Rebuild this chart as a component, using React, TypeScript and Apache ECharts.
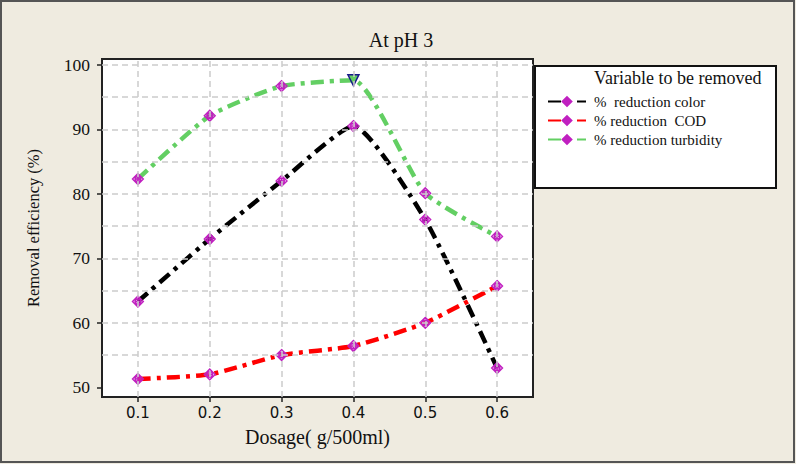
import React, { useEffect, useRef } from 'react';
import * as echarts from 'echarts';

const dosages = [0.1, 0.2, 0.3, 0.4, 0.5, 0.6];
const colorReduction = [63.3, 73.0, 82.0, 90.5, 76.0, 53.0];
const codReduction = [51.3, 52.0, 55.0, 56.4, 60.0, 65.7];
const turbidityReduction = [82.3, 92.1, 96.7, 97.6, 80.1, 73.4];
const seriesNames = ['%  reduction color', '% reduction  COD', '% reduction turbidity'];
const yTickValues = [50, 60, 70, 80, 90, 100];
const yGridValues = [55, 60, 65, 70, 75, 80, 85, 90, 95, 100];
const xTickValues = [0.1, 0.2, 0.3, 0.4, 0.5, 0.6];
const highlightIndex = 3; // turbidity point drawn as a triangle

const MARKER = 'path://M10 0 L20 10 L10 20 L0 10 Z M5 10 L15 10 M10 5 L10 15 M15 10 A5 5 0 1 1 5 10 A5 5 0 1 1 15 10';
const SERIF = '"Liberation Serif", "DejaVu Serif", serif';

export default function App() {
  const ref = useRef<HTMLDivElement>(null);
  useEffect(() => {
    document.body.style.margin = '0';
    if (!ref.current) return;
    const chart = echarts.init(ref.current, null, { renderer: 'svg' });
    const markerStyle = { color: 'rgba(214,80,214,0.45)', borderColor: '#c020c0', borderWidth: 1.3 };
    const lineSeries = (name: string, values: number[], color: string, z: number, special?: boolean) => ({
      name,
      type: 'line',
      z,
      smooth: 0.18,
      symbol: MARKER,
      symbolSize: 11,
      itemStyle: markerStyle,
      lineStyle: { color, width: 4.5, type: [13, 6, 4, 6] },
      emphasis: { disabled: true },
      data: values.map((v, i) =>
        special && i === highlightIndex
          ? {
              value: [dosages[i], v],
              symbol: 'triangle',
              symbolRotate: 180,
              symbolSize: 11,
              itemStyle: { color: '#63cf63', borderColor: '#1a1a8c', borderWidth: 1.5 },
            }
          : [dosages[i], v]
      ),
    });
    chart.setOption({
      animation: false,
      backgroundColor: '#EFEBE0',
      title: {
        text: 'At pH 3',
        left: 396,
        textAlign: 'center',
        top: 25,
        textStyle: { fontFamily: SERIF, fontSize: 20, fontWeight: 'normal', color: '#111' },
      },
      grid: {
        left: 102,
        top: 59,
        right: 263,
        bottom: 67,
        show: true,
        backgroundColor: '#ffffff',
        borderColor: '#222',
        borderWidth: 2,
      },
      xAxis: {
        type: 'value',
        min: 0.05,
        max: 0.65,
        name: 'Dosage( g/500ml)',
        nameLocation: 'middle',
        nameGap: 30,
        nameTextStyle: { fontFamily: SERIF, fontSize: 20, color: '#111' },
        axisLine: { show: true, lineStyle: { color: '#222', width: 2 } },
        axisTick: { show: true, customValues: xTickValues, length: 5, lineStyle: { color: '#222', width: 1.5 } },
        axisLabel: {
          customValues: xTickValues,
          margin: 8,
          fontFamily: '"DejaVu Sans", Verdana, sans-serif',
          fontSize: 15,
          color: '#111',
          formatter: (v: number) => v.toFixed(1),
        },
        splitLine: { show: false },
      },
      yAxis: {
        type: 'value',
        min: 48.5,
        max: 100.9,
        name: 'Removal efficiency (%)',
        nameLocation: 'middle',
        nameGap: 60,
        nameTextStyle: { fontFamily: SERIF, fontSize: 16.5, color: '#111' },
        axisLine: { show: true, lineStyle: { color: '#222', width: 2 } },
        axisTick: { show: true, customValues: yTickValues, length: 5, lineStyle: { color: '#222', width: 1.5 } },
        axisLabel: {
          customValues: yTickValues,
          margin: 12,
          fontFamily: SERIF,
          fontSize: 17.5,
          color: '#111',
        },
        splitLine: { show: false },
      },
      legend: {
        left: 542,
        top: 89,
        orient: 'vertical',
        itemWidth: 38,
        itemHeight: 11,
        itemGap: 4,
        selectedMode: false,
        textStyle: { fontFamily: SERIF, fontSize: 15, color: '#111', padding: [0, 0, 0, 3] },
        data: seriesNames,
      },
      graphic: [
        {
          type: 'rect',
          z: -1,
          shape: { x: 535, y: 66, width: 241, height: 122 },
          style: { fill: '#ffffff', stroke: '#111', lineWidth: 2 },
        },
        {
          type: 'text',
          z: 10,
          x: 594,
          y: 69,
          style: { text: 'Variable to be removed', font: `18px ${SERIF}`, fill: '#111' },
        },
        {
          type: 'rect',
          z: 100,
          silent: true,
          shape: { x: 1, y: 1, width: 793, height: 461 },
          style: { fill: 'none', stroke: '#555', lineWidth: 2 },
        },
      ],
      series: [
        {
          type: 'line',
          z: 1,
          data: [],
          silent: true,
          markLine: {
            silent: true,
            symbol: 'none',
            label: { show: false },
            lineStyle: { color: '#cccccc', width: 1.5, type: [6, 4] },
            emphasis: { disabled: true },
            data: [
              ...yGridValues.map((v) => ({ yAxis: v })),
              ...xTickValues.map((v) => ({ xAxis: v })),
            ],
          },
        },
        lineSeries(seriesNames[0], colorReduction, '#000000', 4),
        lineSeries(seriesNames[1], codReduction, '#ff0000', 3),
        lineSeries(seriesNames[2], turbidityReduction, '#63cf63', 2, true),
      ],
    });
    return () => chart.dispose();
  }, []);
  return <div ref={ref} style={{ width: 796, height: 464 }} />;
}
